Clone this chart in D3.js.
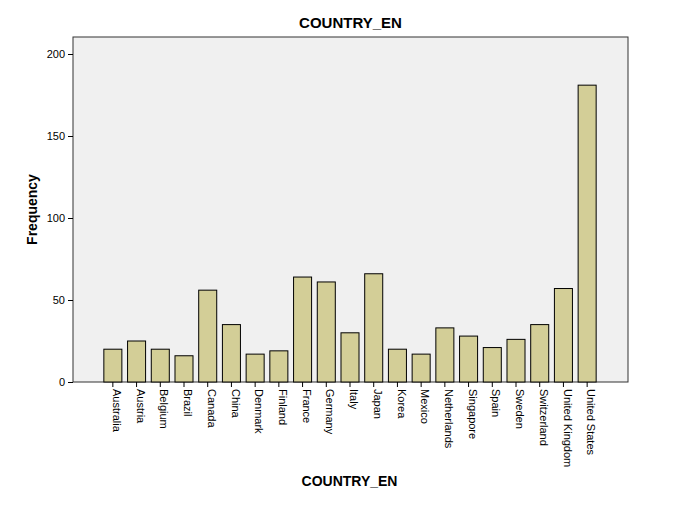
<!DOCTYPE html>
<html><head><meta charset="utf-8">
<script src="https://cdn.jsdelivr.net/npm/d3@7"></script>
<style>body{margin:0;background:#fff;font-family:Arial,"Liberation Sans",sans-serif}</style>
</head><body>
<script>
var countries = ["Australia","Austria","Belgium","Brazil","Canada","China","Denmark","Finland","France","Germany","Italy","Japan","Korea","Mexico","Netherlands","Singapore","Spain","Sweden","Switzerland","United Kingdom","United States"];
var counts = [20,25,20,16,56,35,17,19,64,61,30,66,20,17,33,28,21,26,35,57,181];
var yTicks = [0,50,100,150,200];

var width = 674, height = 523;
var plotLeft = 73, plotRight = 628, plotTop = 37, plotBottom = 382;

var svg = d3.select("body").append("svg")
    .attr("width", width)
    .attr("height", height);

svg.append("rect")
    .attr("x", plotLeft).attr("y", plotTop)
    .attr("width", plotRight - plotLeft).attr("height", plotBottom - plotTop)
    .attr("fill", "#f0f0f0").attr("stroke", "#333").attr("stroke-width", 1);

var x = d3.scaleBand().domain(countries).range([101, 599]).paddingInner(0.24).paddingOuter(0.12);
var y = d3.scaleLinear().domain([0, 200]).range([plotBottom, 54]);

svg.selectAll(".bar")
    .data(countries)
    .enter().append("rect")
    .attr("x", function(d) { return x(d); })
    .attr("y", function(d, i) { return y(counts[i]); })
    .attr("width", x.bandwidth())
    .attr("height", function(d, i) { return plotBottom - y(counts[i]); })
    .attr("fill", "#d3ce97")
    .attr("stroke", "#000").attr("stroke-width", 1);

var ya = svg.append("g").attr("transform", "translate(" + plotLeft + ",0)")
    .call(d3.axisLeft(y).tickValues(yTicks).tickSize(5).tickSizeOuter(0));
ya.select(".domain").remove();
ya.selectAll("text").attr("font-size", 11).attr("fill", "#000").attr("font-family", "Arial, Liberation Sans");

var xa = svg.append("g").attr("transform", "translate(0," + plotBottom + ")")
    .call(d3.axisBottom(x).tickSize(5).tickSizeOuter(0));
xa.select(".domain").remove();
xa.selectAll("text")
    .attr("transform", "rotate(90)")
    .attr("x", 7).attr("y", -4).attr("dy", "0.35em")
    .style("text-anchor", "start")
    .attr("font-size", 11).attr("fill", "#000").attr("font-family", "Arial, Liberation Sans");

svg.append("text").attr("x", (plotLeft + plotRight) / 2).attr("y", 28)
    .attr("text-anchor", "middle").attr("font-size", 15).attr("font-weight", "bold")
    .text("COUNTRY_EN");
svg.append("text").attr("x", (plotLeft + plotRight) / 2 - 1).attr("y", 486)
    .attr("text-anchor", "middle").attr("font-size", 14).attr("font-weight", "bold")
    .text("COUNTRY_EN");
svg.append("text").attr("transform", "translate(37," + (plotTop + plotBottom) / 2 + ") rotate(-90)")
    .attr("text-anchor", "middle").attr("font-size", 14).attr("font-weight", "bold")
    .text("Frequency");
</script>
</body></html>
